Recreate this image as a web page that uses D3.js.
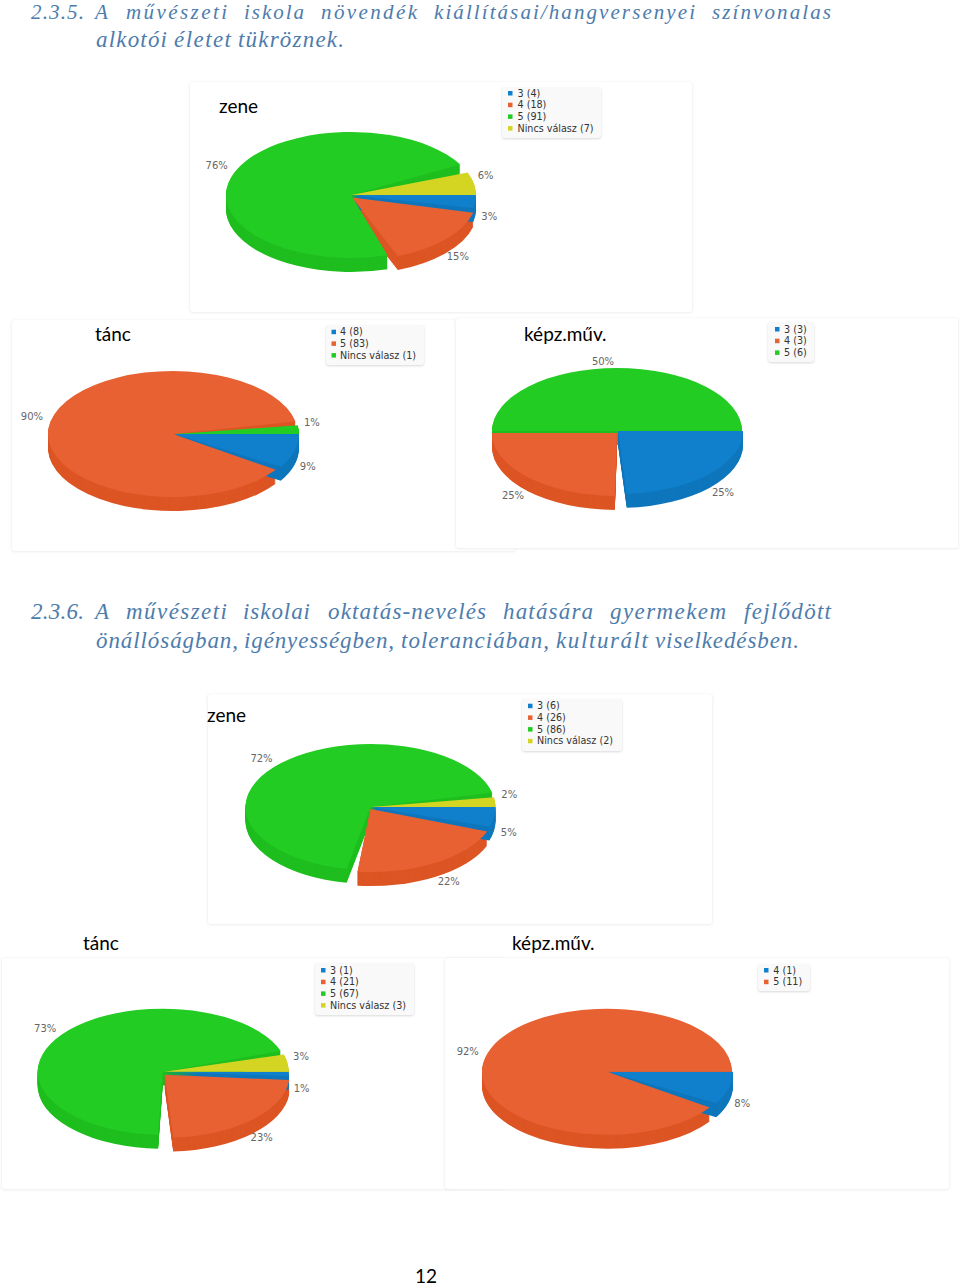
<!DOCTYPE html>
<html><head><meta charset="utf-8">
<script src="https://cdnjs.cloudflare.com/ajax/libs/d3/7.8.5/d3.min.js"></script>
<style>html,body{margin:0;padding:0;background:#fff}svg{display:block}</style>
</head><body><svg id="c" width="960" height="1287"></svg>
<script>
// ---- data ----
const zene1Labels = ["3", "4", "5", "Nincs válasz"];
const zene1Values = [4, 18, 91, 7];
const tanc1Labels = ["4", "5", "Nincs válasz"];
const tanc1Values = [8, 83, 1];
const kepz1Labels = ["3", "4", "5"];
const kepz1Values = [3, 3, 6];
const zene2Labels = ["3", "4", "5", "Nincs válasz"];
const zene2Values = [6, 26, 86, 2];
const tanc2Labels = ["3", "4", "5", "Nincs válasz"];
const tanc2Values = [1, 21, 67, 3];
const kepz2Labels = ["4", "5"];
const kepz2Values = [1, 11];
const palette = ["#1180cc", "#e86133", "#22cc22", "#d4d422"];
const walls = ["#0e76bc", "#dd5524", "#1ebe1e", "#c4c41c"];

// ---- layout (geometry only) ----
const RX = 125, RY = 63, DEPTH = 14, LABEL_K = 1.12;
const pies = [
 {title:"zene", tx:219, ty:113, labels:zene1Labels, values:zene1Values, cx:351, cy:195,
  panel:[190,82,502,230], legend:[502,87,99,51,508,517.5,93],
  off:[[0,0],[1,2.5],[0,0],[0,0]], trim:[[0,0],[2,-2.5],[7,8],[0,0]], nudge:[[-1,0],[-2,3],[-5,-2],[-3,-7]]},
 {title:"tánc", tx:95, ty:341, labels:tanc1Labels, values:tanc1Values, cx:173, cy:434,
  panel:[12,320,503,231], legend:[326,325,98,40,331.5,340,331.7],
  off:[[1,0],[0,0],[1,0]], trim:[[0,0],[3.4,7.6],[-4,0]], nudge:[[0,-1],[-5,-1],[-1,-9]]},
 {title:"képz.műv.", tx:524, ty:341, labels:kepz1Labels, values:kepz1Values, cx:617, cy:431,
  panel:[456,318,502,230], legend:[768,322,46,40,775,784,329],
  off:[[1,0],[0,2],[0,0]], trim:[[0,4],[1,0],[0,0]], nudge:[[7,-2],[-5,1],[-14,1]]},
 {title:"zene", tx:207, ty:722, labels:zene2Labels, values:zene2Values, cx:370.5, cy:807,
  panel:[208,694,504,230], legend:[522,699,100,52,528,537,705.7],
  off:[[0,0],[0,2],[0,0],[0,0]], trim:[[0,0],[3,0],[5,7],[-3,0]], nudge:[[0,0],[2,1],[-10,1],[-1,-9]]},
 {title:"tánc", tx:83, ty:950, labels:tanc2Labels, values:tanc2Values, cx:163.7, cy:1071.7,
  panel:[2,958,503,231], legend:[315,963,99,52,321,330,970],
  off:[[0,0],[1,3],[-1,0],[0,0]], trim:[[0,0],[1,0],[6,7.5],[-4,0]], nudge:[[-2,0],[-1,2],[-7,-1],[-2,-8]]},
 {title:"képz.műv.", tx:512, ty:950, labels:kepz2Labels, values:kepz2Values, cx:607, cy:1071.7,
  panel:[445,958,504,231], legend:[758,964,52,27,764,773.3,970],
  off:[[1,0],[0,0]], trim:[[0,0],[4.7,0]], nudge:[[0,0],[-4,-2]]}
];

// ---- headings: every word with its measured extent ----
const headingLines = [
 {y:18.8, size:21, words:[["2.3.5.",31,84],["A",95,108],["művészeti",126,227],["iskola",244,304],["növendék",321,417],["kiállításai/hangversenyei",434,695],["színvonalas",712,831]]},
 {y:46.5, size:23, words:[["alkotói",96,167],["életet",174,231],["tükröznek.",238,344]]},
 {y:618.5, size:23, words:[["2.3.6.",31,84],["A",95,108],["művészeti",126,227],["iskolai",243,310],["oktatás-nevelés",328,486],["hatására",503,593],["gyermekem",610,726],["fejlődött",744,831]]},
 {y:647.5, size:23, words:[["önállóságban,",96,238],["igényességben,",244,394],["toleranciában,",401,549],["kulturált",556,648],["viselkedésben.",655,799]]}
];
const pageNumber = "12";

const svg = d3.select("#c");
const defs = svg.append("defs");
const blur = defs.append("filter").attr("id","sh").attr("x","-10%").attr("y","-10%").attr("width","120%").attr("height","125%");
blur.append("feGaussianBlur").attr("stdDeviation",0.8);

const rad = d => d * Math.PI / 180;
const pct = d3.format(".0%");

// headings
const hg = svg.append("g").attr("font-family","'Liberation Serif',serif").attr("font-style","italic")
  .attr("fill","#4d7cac");
headingLines.forEach(l => {
  l.words.forEach(w => {
    hg.append("text").attr("x",w[1]).attr("y",l.y).attr("font-size",l.size)
      .attr("textLength",w[2]-w[1]).attr("lengthAdjust","spacing").text(w[0]);
  });
});

pies.forEach(p => {
  const g = svg.append("g");
  // panel with faint shadow
  const [px,py,pw,ph] = p.panel;
  g.append("rect").attr("x",px-0.5).attr("y",py).attr("width",pw+1).attr("height",ph+1)
    .attr("rx",3).attr("fill","#ececec").attr("filter","url(#sh)");
  g.append("rect").attr("x",px).attr("y",py).attr("width",pw).attr("height",ph)
    .attr("rx",3).attr("fill","#fff");

  // angles come from the values; start at 3 o'clock, clockwise on screen
  const pieGen = d3.pie().sort(null).startAngle(Math.PI/2).endAngle(Math.PI*2.5).value(d=>d);
  const arcs = pieGen(p.values).map((a,i)=>{
    const t = p.trim[i];
    return {i, value:a.data, share:a.data/d3.sum(p.values),
      startAngle:a.startAngle+rad(t[0]), endAngle:a.endAngle-rad(t[1]),
      mid:(a.startAngle+a.endAngle)/2 - Math.PI/2};
  });
  const arcGen = d3.arc().innerRadius(0).outerRadius(RX);
  const plot = g.append("g").attr("transform",`translate(${p.cx},${p.cy})`);
  const squash = (i,dz) => `translate(${p.off[i][0]},${p.off[i][1]+dz}) scale(1,${RY/RX})`;

  // extruded sides, last slice first so the earlier slices' sides stay in front
  const wall = plot.append("g");
  arcs.slice().reverse().forEach(a=>{
    wall.selectAll(null).data(d3.range(DEPTH,0,-1)).join("path")
      .attr("d",arcGen(a)).attr("fill",walls[a.i])
      .attr("transform",dz=>squash(a.i,dz));
  });
  // top faces
  plot.append("g").selectAll("path").data(arcs).join("path")
    .attr("d",arcGen).attr("fill",d=>palette[d.i])
    .attr("transform",d=>squash(d.i,0));

  // percent labels
  g.append("g").attr("font-family","'DejaVu Sans',sans-serif").attr("font-size",10).attr("fill","#666")
    .attr("text-anchor","middle").attr("dominant-baseline","central")
    .selectAll("text").data(arcs).join("text")
    .attr("x",d=>p.cx+LABEL_K*RX*Math.cos(d.mid)+p.nudge[d.i][0])
    .attr("y",d=>p.cy+LABEL_K*RY*Math.sin(d.mid)+(Math.sin(d.mid)>0?DEPTH:0)+p.nudge[d.i][1])
    .text(d=>pct(d.share));

  // legend
  const [lx,ly,lw,lh,mx,tx,ry0] = p.legend;
  g.append("rect").attr("x",lx).attr("y",ly+1).attr("width",lw).attr("height",lh).attr("rx",3)
    .attr("fill","#d8d8d8").attr("filter","url(#sh)");
  g.append("rect").attr("x",lx).attr("y",ly).attr("width",lw).attr("height",lh).attr("rx",3).attr("fill","#f9f9f9");
  const rowY = i => ry0 + i*11.7;
  g.append("g").selectAll("rect").data(p.labels).join("rect")
    .attr("x",mx).attr("y",(d,i)=>rowY(i)-2).attr("width",4.5).attr("height",4.5)
    .attr("fill",(d,i)=>palette[i]);
  g.append("g").attr("font-family","'DejaVu Sans',sans-serif").attr("font-size",9.6).attr("fill","#333")
    .attr("dominant-baseline","central")
    .selectAll("text").data(p.labels).join("text")
    .attr("x",tx).attr("y",(d,i)=>rowY(i))
    .text((d,i)=>`${d} (${p.values[i]})`);

  // title
  g.append("text").attr("x",p.tx).attr("y",p.ty).attr("font-family","Lato,sans-serif")
    .attr("font-size",19).attr("fill","#000").text(p.title);
});

svg.append("text").attr("x",415).attr("y",1283).attr("font-family","Lato,sans-serif")
  .attr("font-size",19).attr("fill","#000").text(pageNumber);
</script></body></html>
